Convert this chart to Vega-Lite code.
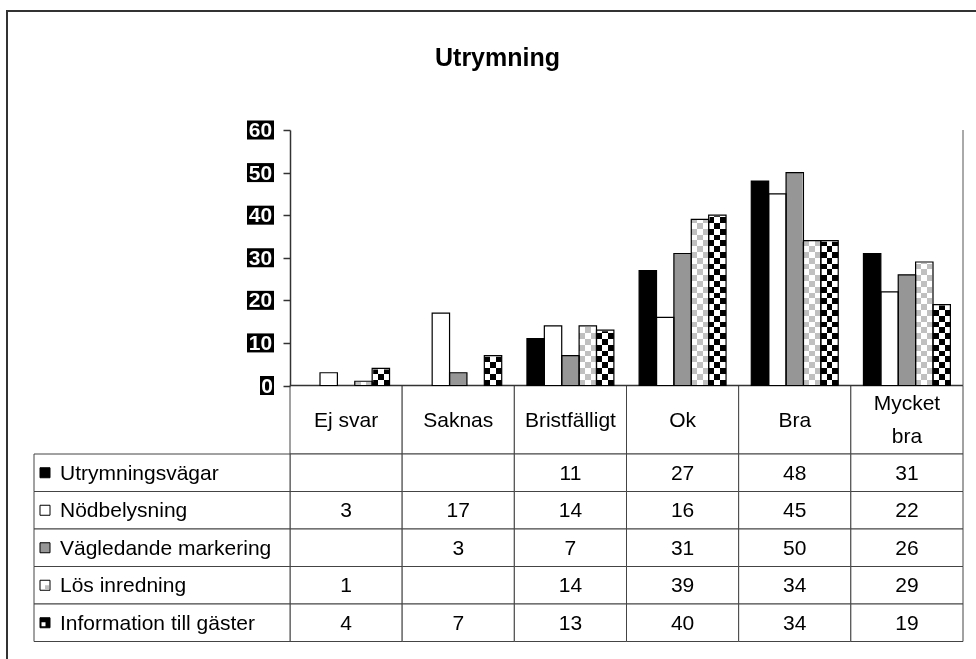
{
  "$schema": "https://vega.github.io/schema/vega-lite/v6.json",
  "width": 975,
  "height": 660,
  "autosize": {"type": "none"},
  "padding": {"left": 7, "top": 11, "right": 0, "bottom": 0},
  "background": "white",
  "config": {
    "view": {"stroke": "#333333", "strokeWidth": 2},
    "font": "Liberation Sans",
    "text": {"font": "Liberation Sans"}
  },
  "title": {
    "text": "Utrymning",
    "font": "Liberation Sans",
    "fontSize": 25,
    "fontWeight": "bold",
    "color": "#000000",
    "anchor": "middle",
    "frame": "group",
    "baseline": "alphabetic",
    "offset": 0,
    "dy": 80,
    "dx": 3
  },
  "datasets": {
    "t": [
      {"s": "Utrymningsvägar", "c": "Ej svar", "v": null},
      {"s": "Utrymningsvägar", "c": "Saknas", "v": null},
      {"s": "Utrymningsvägar", "c": "Bristfälligt", "v": 11},
      {"s": "Utrymningsvägar", "c": "Ok", "v": 27},
      {"s": "Utrymningsvägar", "c": "Bra", "v": 48},
      {"s": "Utrymningsvägar", "c": "Mycket bra", "v": 31},
      {"s": "Nödbelysning", "c": "Ej svar", "v": 3},
      {"s": "Nödbelysning", "c": "Saknas", "v": 17},
      {"s": "Nödbelysning", "c": "Bristfälligt", "v": 14},
      {"s": "Nödbelysning", "c": "Ok", "v": 16},
      {"s": "Nödbelysning", "c": "Bra", "v": 45},
      {"s": "Nödbelysning", "c": "Mycket bra", "v": 22},
      {"s": "Vägledande markering", "c": "Ej svar", "v": null},
      {"s": "Vägledande markering", "c": "Saknas", "v": 3},
      {"s": "Vägledande markering", "c": "Bristfälligt", "v": 7},
      {"s": "Vägledande markering", "c": "Ok", "v": 31},
      {"s": "Vägledande markering", "c": "Bra", "v": 50},
      {"s": "Vägledande markering", "c": "Mycket bra", "v": 26},
      {"s": "Lös inredning", "c": "Ej svar", "v": 1},
      {"s": "Lös inredning", "c": "Saknas", "v": null},
      {"s": "Lös inredning", "c": "Bristfälligt", "v": 14},
      {"s": "Lös inredning", "c": "Ok", "v": 39},
      {"s": "Lös inredning", "c": "Bra", "v": 34},
      {"s": "Lös inredning", "c": "Mycket bra", "v": 29},
      {"s": "Information till gäster", "c": "Ej svar", "v": 4},
      {"s": "Information till gäster", "c": "Saknas", "v": 7},
      {"s": "Information till gäster", "c": "Bristfälligt", "v": 13},
      {"s": "Information till gäster", "c": "Ok", "v": 40},
      {"s": "Information till gäster", "c": "Bra", "v": 34},
      {"s": "Information till gäster", "c": "Mycket bra", "v": 19}
    ],
    "ser": [
      {"s": "Utrymningsvägar"},
      {"s": "Nödbelysning"},
      {"s": "Vägledande markering"},
      {"s": "Lös inredning"},
      {"s": "Information till gäster"}
    ],
    "head": [
      {"c": "Ej svar", "lbl": "Ej svar"},
      {"c": "Saknas", "lbl": "Saknas"},
      {"c": "Bristfälligt", "lbl": "Bristfälligt"},
      {"c": "Ok", "lbl": "Ok"},
      {"c": "Bra", "lbl": "Bra"},
      {"c": "Mycket bra", "lbl": "Mycket\nbra"}
    ],
    "ticks": [
      {"v": 0}, {"v": 10}, {"v": 20}, {"v": 30}, {"v": 40}, {"v": 50}, {"v": 60}
    ],
    "one": [{"k": 1}]
  },
  "resolve": {
    "scale": {"x": "independent", "y": "independent", "xOffset": "independent", "fill": "independent"},
    "axis": {"x": "independent", "y": "independent"}
  },
  "layer": [
    {
      "data": {"name": "head"},
      "encoding": {
        "x": {"field": "c", "type": "nominal", "axis": null,
              "scale": {"type": "band", "domain": ["Ej svar", "Saknas", "Bristfälligt", "Ok", "Bra", "Mycket bra"], "range": [283, 956], "paddingInner": 0, "paddingOuter": 0}},
        "y": {"datum": "h", "type": "nominal", "axis": null,
              "scale": {"type": "band", "domain": ["h"], "range": [374.5, 443], "paddingInner": 0, "paddingOuter": 0}}
      },
      "layer": [
        {"mark": {"type": "rect", "fill": "white", "stroke": "#444444", "strokeWidth": 1}},
        {"transform": [{"filter": "indexof(datum.lbl, '\\n') < 0"}],
         "mark": {"type": "text", "fontSize": 21, "color": "#000000", "baseline": "middle", "align": "center", "dy": 1},
         "encoding": {"text": {"field": "lbl", "type": "nominal"}}},
        {"transform": [{"filter": "indexof(datum.lbl, '\\n') >= 0"}],
         "mark": {"type": "text", "fontSize": 21, "color": "#000000", "lineBreak": "\n", "lineHeight": 33, "baseline": "middle", "align": "center", "dy": -16},
         "encoding": {"text": {"field": "lbl", "type": "nominal"}}}
      ]
    },
    {
      "data": {"name": "t"},
      "encoding": {
        "x": {"field": "c", "type": "nominal", "axis": null,
              "scale": {"type": "band", "domain": ["Ej svar", "Saknas", "Bristfälligt", "Ok", "Bra", "Mycket bra"], "range": [283, 956], "paddingInner": 0, "paddingOuter": 0}},
        "y": {"field": "s", "type": "nominal", "axis": null,
              "scale": {"type": "band", "domain": ["Utrymningsvägar", "Nödbelysning", "Vägledande markering", "Lös inredning", "Information till gäster"], "range": [443, 630.5], "paddingInner": 0, "paddingOuter": 0}}
      },
      "layer": [
        {"mark": {"type": "rect", "fill": "white", "stroke": "#444444", "strokeWidth": 1}},
        {"transform": [{"filter": "datum.v != null"}],
         "mark": {"type": "text", "fontSize": 21, "color": "#000000", "baseline": "middle", "align": "center", "dy": 1},
         "encoding": {"text": {"field": "v", "type": "quantitative"}}}
      ]
    },
    {
      "data": {"name": "ser"},
      "encoding": {
        "y": {"field": "s", "type": "nominal", "axis": null,
              "scale": {"type": "band", "domain": ["Utrymningsvägar", "Nödbelysning", "Vägledande markering", "Lös inredning", "Information till gäster"], "range": [443, 630.5], "paddingInner": 0, "paddingOuter": 0}},
        "x": {"datum": 0, "type": "quantitative", "axis": null, "scale": {"type": "linear", "domain": [0, 1], "range": [27, 283]}}
      },
      "layer": [
        {"mark": {"type": "rect", "fill": "white", "stroke": "#444444", "strokeWidth": 1},
         "encoding": {"x2": {"datum": 1}}},
        {"mark": {"type": "point", "shape": "square", "size": 100, "filled": true, "stroke": "#000000", "strokeWidth": 1, "opacity": 1, "xOffset": 11},
         "encoding": {"fill": {"field": "s", "type": "nominal", "legend": null,
                               "scale": {"domain": ["Utrymningsvägar", "Nödbelysning", "Vägledande markering", "Lös inredning", "Information till gäster"], "range": ["#000000", "#ffffff", "#969696", "#ffffff", "#000000"]}}}},
        {"transform": [{"filter": "datum.s == 'Lös inredning'"}],
         "mark": {"type": "point", "shape": "square", "size": 16, "filled": true, "strokeWidth": 0, "opacity": 1, "color": "#c0c0c0", "xOffset": 13, "yOffset": 2}},
        {"transform": [{"filter": "datum.s == 'Information till gäster'"}],
         "mark": {"type": "point", "shape": "square", "size": 16, "filled": true, "strokeWidth": 0, "opacity": 1, "color": "#ffffff", "xOffset": 9.5, "yOffset": 1.5}},
        {"mark": {"type": "text", "align": "left", "baseline": "middle", "fontSize": 21, "color": "#000000", "xOffset": 26, "dy": 1},
         "encoding": {"text": {"field": "s", "type": "nominal"}}}
      ]
    },
    {
      "data": {"name": "one"},
      "encoding": {
        "x": {"datum": 0, "type": "quantitative", "axis": null, "scale": {"type": "linear", "domain": [0, 6], "range": [283, 956]}},
        "y": {"datum": 0, "type": "quantitative", "axis": null, "scale": {"type": "linear", "domain": [0, 60], "range": [374.5, 119], "nice": false}}
      },
      "layer": [
        {"mark": {"type": "rule", "color": "#333333", "strokeWidth": 1.5},
         "encoding": {"x2": {"datum": 6}}},
        {"mark": {"type": "rule", "color": "#555555", "strokeWidth": 1},
         "encoding": {"x": {"datum": 6, "type": "quantitative"}, "y2": {"datum": 60}}}
      ]
    },
    {
      "data": {"name": "t"},
      "transform": [{"filter": "datum.v != null"}],
      "encoding": {
        "x": {"field": "c", "type": "nominal", "axis": null,
              "scale": {"type": "band", "domain": ["Ej svar", "Saknas", "Bristfälligt", "Ok", "Bra", "Mycket bra"], "range": [283, 956], "paddingInner": 0.225, "paddingOuter": 0.1125}},
        "xOffset": {"field": "s", "type": "nominal",
                    "scale": {"type": "band", "domain": ["Utrymningsvägar", "Nödbelysning", "Vägledande markering", "Lös inredning", "Information till gäster"], "paddingInner": 0, "paddingOuter": 0}},
        "y": {"field": "v", "type": "quantitative",
              "scale": {"type": "linear", "domain": [0, 60], "range": [374.5, 119], "nice": false},
              "axis": {"orient": "left", "offset": -283, "values": [0, 10, 20, 30, 40, 50, 60], "labels": false, "title": null, "grid": false,
                       "domainColor": "#333333", "domainWidth": 1.5, "tickColor": "#333333", "tickWidth": 1.5, "tickSize": 7, "zindex": 1}}
      },
      "layer": [
        {"transform": [{"filter": {"field": "s", "oneOf": ["Utrymningsvägar", "Nödbelysning", "Vägledande markering"]}}],
         "mark": {"type": "bar"},
         "encoding": {"fill": {"field": "s", "type": "nominal", "legend": null,
                               "scale": {"domain": ["Utrymningsvägar", "Nödbelysning", "Vägledande markering"], "range": ["#000000", "#ffffff", "#969696"]}}}},
        {"transform": [{"filter": {"field": "s", "oneOf": ["Lös inredning", "Information till gäster"]}}],
         "mark": {"type": "bar", "fill": {"gradient": "linear", "x1": 0, "y1": 0, "x2": 1, "y2": 0,
                  "stops": [
                    {"offset": 0, "color": "#ffffff"}, {"offset": 0.3333, "color": "#ffffff"},
                    {"offset": 0.3333, "color": "#000000"}, {"offset": 0.6667, "color": "#000000"},
                    {"offset": 0.6667, "color": "#ffffff"}, {"offset": 1, "color": "#ffffff"}]}}},
        {"transform": [{"filter": {"field": "s", "oneOf": ["Lös inredning", "Information till gäster"]}}],
         "mark": {"type": "bar", "blend": "difference", "fill": {"gradient": "linear", "x1": 0, "y1": 1, "x2": 0, "y2": 0,
                  "stops": [
                    {"offset": 0, "color": "#ffffff"}, {"offset": 0.02273, "color": "#ffffff"},
                    {"offset": 0.02273, "color": "#000000"}, {"offset": 0.04545, "color": "#000000"},
                    {"offset": 0.04545, "color": "#ffffff"}, {"offset": 0.06818, "color": "#ffffff"},
                    {"offset": 0.06818, "color": "#000000"}, {"offset": 0.09091, "color": "#000000"},
                    {"offset": 0.09091, "color": "#ffffff"}, {"offset": 0.11364, "color": "#ffffff"},
                    {"offset": 0.11364, "color": "#000000"}, {"offset": 0.13636, "color": "#000000"},
                    {"offset": 0.13636, "color": "#ffffff"}, {"offset": 0.15909, "color": "#ffffff"},
                    {"offset": 0.15909, "color": "#000000"}, {"offset": 0.18182, "color": "#000000"},
                    {"offset": 0.18182, "color": "#ffffff"}, {"offset": 0.20455, "color": "#ffffff"},
                    {"offset": 0.20455, "color": "#000000"}, {"offset": 0.22727, "color": "#000000"},
                    {"offset": 0.22727, "color": "#ffffff"}, {"offset": 0.25, "color": "#ffffff"},
                    {"offset": 0.25, "color": "#000000"}, {"offset": 0.27273, "color": "#000000"},
                    {"offset": 0.27273, "color": "#ffffff"}, {"offset": 0.29545, "color": "#ffffff"},
                    {"offset": 0.29545, "color": "#000000"}, {"offset": 0.31818, "color": "#000000"},
                    {"offset": 0.31818, "color": "#ffffff"}, {"offset": 0.34091, "color": "#ffffff"},
                    {"offset": 0.34091, "color": "#000000"}, {"offset": 0.36364, "color": "#000000"},
                    {"offset": 0.36364, "color": "#ffffff"}, {"offset": 0.38636, "color": "#ffffff"},
                    {"offset": 0.38636, "color": "#000000"}, {"offset": 0.40909, "color": "#000000"},
                    {"offset": 0.40909, "color": "#ffffff"}, {"offset": 0.43182, "color": "#ffffff"},
                    {"offset": 0.43182, "color": "#000000"}, {"offset": 0.45455, "color": "#000000"},
                    {"offset": 0.45455, "color": "#ffffff"}, {"offset": 0.47727, "color": "#ffffff"},
                    {"offset": 0.47727, "color": "#000000"}, {"offset": 0.5, "color": "#000000"},
                    {"offset": 0.5, "color": "#ffffff"}, {"offset": 0.52273, "color": "#ffffff"},
                    {"offset": 0.52273, "color": "#000000"}, {"offset": 0.54545, "color": "#000000"},
                    {"offset": 0.54545, "color": "#ffffff"}, {"offset": 0.56818, "color": "#ffffff"},
                    {"offset": 0.56818, "color": "#000000"}, {"offset": 0.59091, "color": "#000000"},
                    {"offset": 0.59091, "color": "#ffffff"}, {"offset": 0.61364, "color": "#ffffff"},
                    {"offset": 0.61364, "color": "#000000"}, {"offset": 0.63636, "color": "#000000"},
                    {"offset": 0.63636, "color": "#ffffff"}, {"offset": 0.65909, "color": "#ffffff"},
                    {"offset": 0.65909, "color": "#000000"}, {"offset": 0.68182, "color": "#000000"},
                    {"offset": 0.68182, "color": "#ffffff"}, {"offset": 0.70455, "color": "#ffffff"},
                    {"offset": 0.70455, "color": "#000000"}, {"offset": 0.72727, "color": "#000000"},
                    {"offset": 0.72727, "color": "#ffffff"}, {"offset": 0.75, "color": "#ffffff"},
                    {"offset": 0.75, "color": "#000000"}, {"offset": 0.77273, "color": "#000000"},
                    {"offset": 0.77273, "color": "#ffffff"}, {"offset": 0.79545, "color": "#ffffff"},
                    {"offset": 0.79545, "color": "#000000"}, {"offset": 0.81818, "color": "#000000"},
                    {"offset": 0.81818, "color": "#ffffff"}, {"offset": 0.84091, "color": "#ffffff"},
                    {"offset": 0.84091, "color": "#000000"}, {"offset": 0.86364, "color": "#000000"},
                    {"offset": 0.86364, "color": "#ffffff"}, {"offset": 0.88636, "color": "#ffffff"},
                    {"offset": 0.88636, "color": "#000000"}, {"offset": 0.90909, "color": "#000000"},
                    {"offset": 0.90909, "color": "#ffffff"}, {"offset": 0.93182, "color": "#ffffff"},
                    {"offset": 0.93182, "color": "#000000"}, {"offset": 0.95455, "color": "#000000"},
                    {"offset": 0.95455, "color": "#ffffff"}, {"offset": 0.97727, "color": "#ffffff"},
                    {"offset": 0.97727, "color": "#000000"}, {"offset": 1, "color": "#000000"}]}},
         "encoding": {"y": {"datum": 0, "type": "quantitative"}, "y2": {"datum": 60}}},
        {"transform": [{"filter": {"field": "s", "oneOf": ["Lös inredning", "Information till gäster"]}}],
         "mark": {"type": "bar", "fill": "#ffffff", "stroke": "#ffffff", "strokeWidth": 2},
         "encoding": {"y": {"field": "v", "type": "quantitative"}, "y2": {"datum": 60}}},
        {"transform": [{"filter": {"field": "s", "equal": "Lös inredning"}}],
         "mark": {"type": "bar", "fill": "#c0c0c0", "blend": "lighten"}},
        {"mark": {"type": "bar", "filled": false, "stroke": "#000000", "strokeWidth": 1.2}}
      ]
    },
    {
      "data": {"name": "ticks"},
      "encoding": {
        "y": {"field": "v", "type": "quantitative", "axis": null, "scale": {"type": "linear", "domain": [0, 60], "range": [374.5, 119], "nice": false}},
        "x": {"datum": 1, "type": "quantitative", "axis": null, "scale": {"type": "linear", "domain": [0, 1], "range": [0, 283]}}
      },
      "layer": [
        {"transform": [{"filter": "datum.v > 0"}],
         "mark": {"type": "tick", "orient": "vertical", "color": "#000000", "opacity": 1, "thickness": 27, "size": 19, "xOffset": -29.5}},
        {"transform": [{"filter": "datum.v == 0"}],
         "mark": {"type": "tick", "orient": "vertical", "color": "#000000", "opacity": 1, "thickness": 14, "size": 19, "xOffset": -23}},
        {"transform": [{"filter": "datum.v > 0"}],
         "mark": {"type": "text", "color": "#ffffff", "fontWeight": "bold", "fontSize": 21, "align": "center", "baseline": "middle", "xOffset": -29.5, "dy": 1},
         "encoding": {"text": {"field": "v", "type": "quantitative"}}},
        {"transform": [{"filter": "datum.v == 0"}],
         "mark": {"type": "text", "color": "#ffffff", "fontWeight": "bold", "fontSize": 21, "align": "center", "baseline": "middle", "xOffset": -23, "dy": 1},
         "encoding": {"text": {"field": "v", "type": "quantitative"}}}
      ]
    }
  ]
}
